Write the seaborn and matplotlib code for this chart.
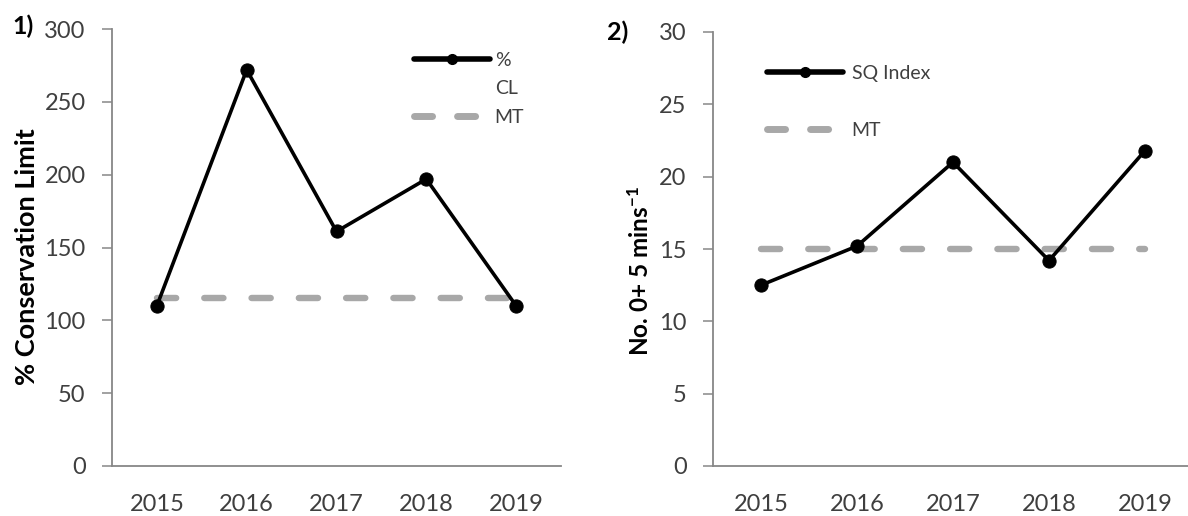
import matplotlib
matplotlib.use("Agg")
import matplotlib.pyplot as plt
from matplotlib.lines import Line2D
import seaborn as sns
import pandas as pd

years = ["2015", "2016", "2017", "2018", "2019"]
pct_cl = [110, 272, 161, 197, 110]
mt_pct = [115, 115, 115, 115, 115]
sq_index = [12.5, 15.2, 21.0, 14.2, 21.8]
mt_sq = [15, 15, 15, 15, 15]

sns.set_theme(style="white")
plt.rcParams["font.family"] = ["Lato", "DejaVu Sans"]
plt.rcParams["mathtext.fontset"] = "custom"
plt.rcParams["mathtext.rm"] = "Lato"
plt.rcParams["mathtext.bf"] = "Lato:bold"
plt.rcParams["mathtext.default"] = "bf"

SPINE = "#878787"
TEXT = "#3f3f3f"
MT_COL = "#a8a8a8"

pos = list(range(len(years)))
df1 = pd.DataFrame({"pos": pos, "val": pct_cl, "mt": mt_pct})
df2 = pd.DataFrame({"pos": pos, "val": sq_index, "mt": mt_sq})

fig = plt.figure(figsize=(11.88, 5.16), dpi=100)
ax1 = fig.add_axes([112 / 1188, 50 / 516, 449 / 1188, 437 / 516])
ax2 = fig.add_axes([713 / 1188, 50 / 516, 480 / 1188, 434 / 516])


def draw(ax, df, ymax, ystep, ylabel, label_size, label_y):
    sns.lineplot(data=df, x="pos", y="mt", ax=ax, color=MT_COL, lw=4.6,
                 dashes=False)
    mt_line = ax.lines[-1]
    mt_line.set_linestyle((0, (3.0, 4.4)))
    mt_line.set_dash_capstyle("round")
    sns.lineplot(data=df, x="pos", y="val", ax=ax, color="black", lw=2.6,
                 marker="o", markersize=9.5, markeredgecolor="black")
    ax.set_xlim(-0.5, len(years) - 0.5)
    ax.set_ylim(0, ymax)
    ax.set_yticks(range(0, ymax + 1, ystep))
    ax.set_xticks(pos)
    ax.set_xticklabels(years)
    ax.set_xticks([p - 0.5 for p in pos] + [len(years) - 0.5], minor=True)
    ax.tick_params(axis="x", which="major", length=0, pad=20,
                   labelsize=17, labelcolor=TEXT)
    ax.tick_params(axis="x", which="minor", length=5, width=1.1,
                   color=SPINE, direction="out")
    ax.tick_params(axis="y", length=7, width=1.1, color=SPINE, pad=12,
                   labelsize=17, labelcolor=TEXT, direction="out", left=True)
    for side in ("top", "right"):
        ax.spines[side].set_visible(False)
    for side in ("left", "bottom"):
        ax.spines[side].set_color(SPINE)
        ax.spines[side].set_linewidth(1.3)
    ax.set_xlabel("")
    ax.set_ylabel(ylabel, fontsize=label_size, fontweight="bold",
                  color="black", labelpad=4)
    ax.yaxis.label.set_y(label_y)
    return mt_line


draw(ax1, df1, 300, 50, "% Conservation Limit", 19.5, 0.48)
draw(ax2, df2, 30, 5, "No. 0+ 5 mins$^{-1}$", 17.5, 0.45)

series_h = Line2D([], [], color="black", lw=4, marker="o", markersize=7)
mt_h = Line2D([], [], color=MT_COL, lw=5, linestyle=(0, (2.6, 3.6)),
              dash_capstyle="round")
blank_h = Line2D([], [], color="none")

ax1.legend([series_h, blank_h, mt_h], ["%", "CL", "MT"],
           loc="upper left", bbox_to_anchor=(414 / 1188, 1 - 52 / 516),
           bbox_transform=fig.transFigure, frameon=False, fontsize=14,
           handlelength=3.9, handletextpad=0.25, labelspacing=0.58,
           borderpad=0, borderaxespad=0, labelcolor=TEXT)
ax2.legend([series_h, mt_h], ["SQ Index", "MT"],
           loc="upper left", bbox_to_anchor=(767 / 1188, 1 - 65 / 516),
           bbox_transform=fig.transFigure, frameon=False, fontsize=14,
           handlelength=3.9, handletextpad=0.45, labelspacing=2.05,
           borderpad=0, borderaxespad=0, labelcolor=TEXT)

fig.text(12 / 1188, 1 - 26 / 516, "1)", fontsize=18, fontweight="bold",
         va="center", ha="left", color="black")
fig.text(607 / 1188, 1 - 32 / 516, "2)", fontsize=18, fontweight="bold",
         va="center", ha="left", color="black")

fig.savefig("out.png", dpi=100)
